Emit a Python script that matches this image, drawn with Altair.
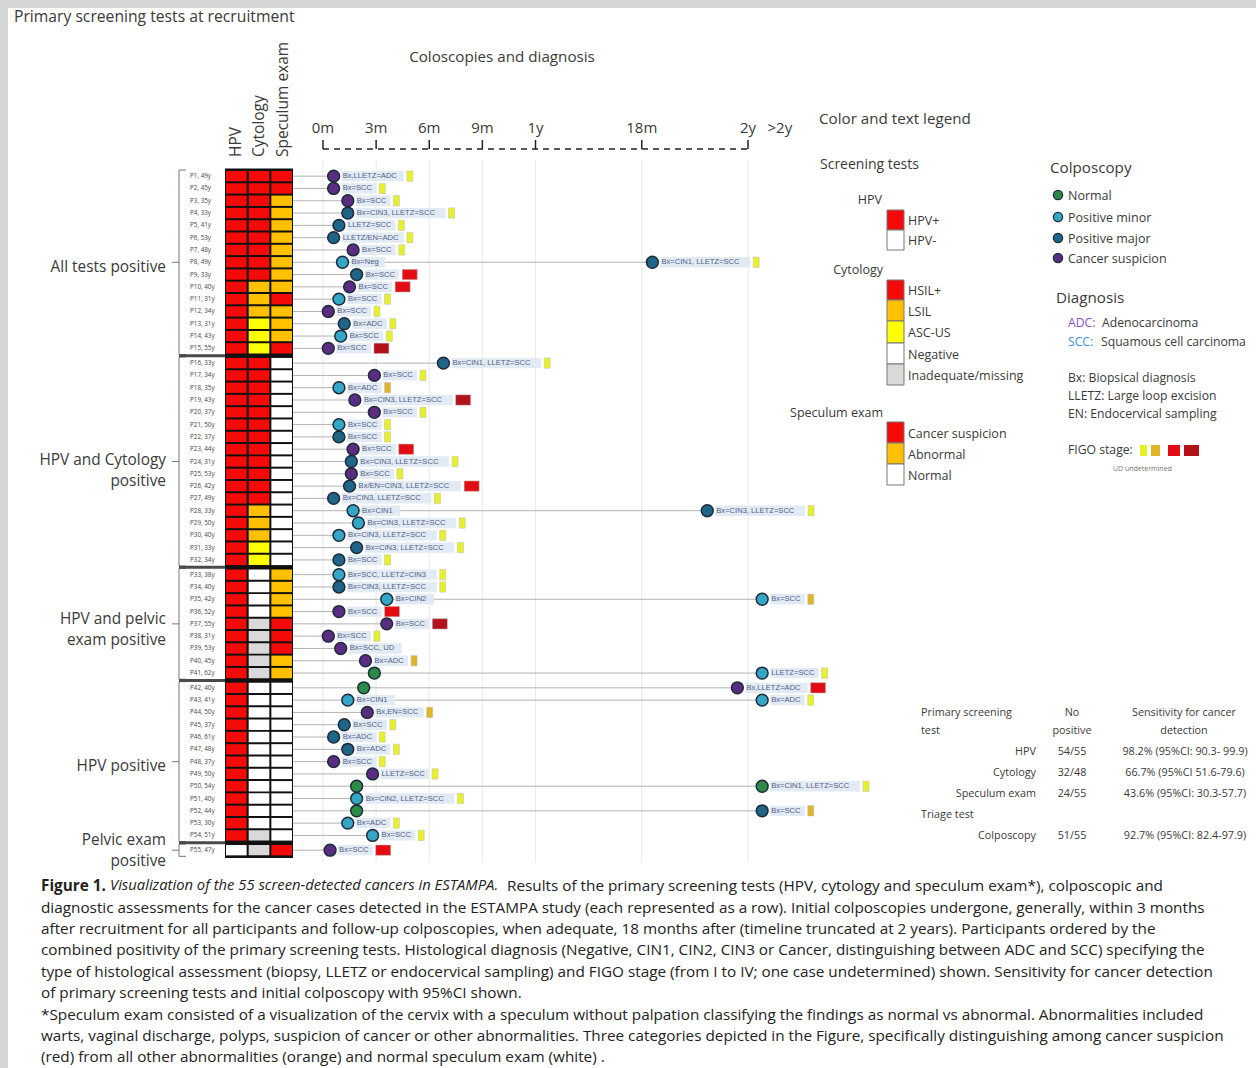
import altair as alt
import pandas as pd

# ---------------- data ----------------
ages = [49, 45, 35, 33, 41, 53, 48, 49, 33, 40, 31, 34, 31, 43, 55,
        33, 34, 35, 43, 37, 50, 37, 44, 31, 53, 42, 49, 33, 50, 40, 33, 34,
        38, 40, 42, 52, 55, 31, 53, 45, 62,
        40, 41, 50, 37, 61, 48, 37, 50, 54, 40, 44, 30, 51,
        47]
group_names = [["All tests positive"], ["HPV and Cytology", "positive"],
               ["HPV and pelvic", "exam positive"], ["HPV positive"],
               ["Pelvic exam", "positive"]]
group_sizes = [15, 17, 9, 13, 1]

hpv = ["HPV+"] * 54 + ["HPV-"]
cytology = (["HSIL+"] * 9 + ["LSIL"] * 3 + ["ASC-US"] * 3 +
            ["HSIL+"] * 12 + ["LSIL"] * 3 + ["ASC-US"] * 2 +
            ["Negative"] * 4 + ["Inadequate/missing"] * 5 +
            ["Negative"] * 12 + ["Inadequate/missing"] * 2)
speculum = (["Cancer suspicion"] * 2 + ["Abnormal"] * 8 + ["Cancer suspicion"] +
            ["Abnormal"] * 3 + ["Cancer suspicion"] +
            ["Normal"] * 17 +
            ["Abnormal"] * 4 + ["Cancer suspicion"] * 3 + ["Abnormal"] * 2 +
            ["Normal"] * 13 + ["Cancer suspicion"])

# first colposcopy (months after recruitment)
first_month = [0.6, 0.6, 1.4, 1.4, 0.9, 0.6, 1.7, 1.1, 1.9, 1.5, 0.9, 0.3, 1.2, 1.0, 0.3,
               6.8, 2.9, 0.9, 1.8, 2.9, 0.9, 0.9, 1.7, 1.6, 1.6, 1.5, 0.6, 1.7, 2.0, 0.9, 1.9, 0.9,
               0.9, 0.9, 3.6, 0.9, 3.6, 0.3, 1.0, 2.4, 2.9,
               2.3, 1.4, 2.5, 1.2, 0.6, 1.4, 0.6, 2.8, 1.9, 1.9, 1.9, 1.4, 2.8,
               0.4]
first_colpo = ["Cancer suspicion", "Cancer suspicion", "Cancer suspicion", "Positive major", "Positive major",
               "Positive major", "Cancer suspicion", "Positive minor", "Positive major", "Cancer suspicion",
               "Positive minor", "Cancer suspicion", "Positive major", "Positive minor", "Cancer suspicion",
               "Positive major", "Cancer suspicion", "Positive minor", "Cancer suspicion", "Cancer suspicion",
               "Positive minor", "Positive major", "Cancer suspicion", "Positive major", "Cancer suspicion",
               "Positive major", "Positive major", "Positive minor", "Positive minor", "Positive minor",
               "Positive major", "Positive major",
               "Positive minor", "Positive major", "Positive minor", "Cancer suspicion", "Cancer suspicion",
               "Cancer suspicion", "Cancer suspicion", "Cancer suspicion", "Normal",
               "Normal", "Positive minor", "Cancer suspicion", "Positive major", "Positive major",
               "Positive major", "Cancer suspicion", "Cancer suspicion", "Normal", "Positive minor",
               "Normal", "Positive minor", "Positive minor",
               "Cancer suspicion"]
first_label = ["Bx,LLETZ=ADC", "Bx=SCC", "Bx=SCC", "Bx=CIN3, LLETZ=SCC", "LLETZ=SCC",
               "LLETZ/EN=ADC", "Bx=SCC", "Bx=Neg", "Bx=SCC", "Bx=SCC",
               "Bx=SCC", "Bx=SCC", "Bx=ADC", "Bx=SCC", "Bx=SCC",
               "Bx=CIN1, LLETZ=SCC", "Bx=SCC", "Bx=ADC", "Bx=CIN3, LLETZ=SCC", "Bx=SCC",
               "Bx=SCC", "Bx=SCC", "Bx=SCC", "Bx=CIN3, LLETZ=SCC", "Bx=SCC",
               "Bx/EN=CIN3, LLETZ=SCC", "Bx=CIN3, LLETZ=SCC", "Bx=CIN1", "Bx=CIN3, LLETZ=SCC",
               "Bx=CIN3, LLETZ=SCC", "Bx=CIN3, LLETZ=SCC", "Bx=SCC",
               "Bx=SCC, LLETZ=CIN3", "Bx=CIN3, LLETZ=SCC", "Bx=CIN2", "Bx=SCC", "Bx=SCC",
               "Bx=SCC", "Bx=SCC, UD", "Bx=ADC", "",
               "", "Bx=CIN1", "Bx,EN=SCC", "Bx=SCC", "Bx=ADC",
               "Bx=ADC", "Bx=SCC", "LLETZ=SCC", "", "Bx=CIN2, LLETZ=SCC",
               "", "Bx=ADC", "Bx=SCC",
               "Bx=SCC"]
first_figo = ["I", "I", "I", "I", "I", "I", "I", "", "III", "III", "I", "I", "I", "I", "IV",
              "I", "I", "II", "IV", "I", "I", "I", "III", "I", "I", "III", "I", "", "I", "I", "I", "I",
              "I", "I", "", "III", "IV", "I", "", "II", "",
              "", "", "II", "I", "I", "I", "I", "I", "", "I", "", "I", "I",
              "III"]

# follow-up colposcopies
fu_patient = [8, 28, 35, 41, 42, 43, 50, 52]
fu_month = [18.6, 21.7, 24.8, 24.8, 23.4, 24.8, 24.8, 24.8]
fu_colpo = ["Positive major", "Positive major", "Positive minor", "Positive minor",
            "Cancer suspicion", "Positive minor", "Normal", "Positive major"]
fu_label = ["Bx=CIN1, LLETZ=SCC", "Bx=CIN3, LLETZ=SCC", "Bx=SCC", "LLETZ=SCC",
            "Bx,LLETZ=ADC", "Bx=ADC", "Bx=CIN1, LLETZ=SCC", "Bx=SCC"]
fu_figo = ["I", "I", "II", "I", "III", "I", "I", "II"]

tick_labels = ["0m", "3m", "6m", "9m", "1y", "18m", "2y", ">2y"]
tick_months = [0, 3, 6, 9, 12, 18, 24, 25.8]

tbl_tests = ["HPV", "Cytology", "Speculum exam", "Colposcopy"]
tbl_npos = ["54/55", "32/48", "24/55", "51/55"]
tbl_sens = ["98.2% (95%CI: 90.3- 99.9)", "66.7% (95%CI 51.6-79.6)",
            "43.6% (95%CI: 30.3-57.7)", "92.7% (95%CI: 82.4-97.9)"]

caption = [
    "diagnostic assessments for the cancer cases detected in the ESTAMPA study (each represented as a row). Initial colposcopies undergone, generally, within 3 months",
    "after recruitment for all participants and follow-up colposcopies, when adequate, 18 months after (timeline truncated at 2 years). Participants ordered by the",
    "combined positivity of the primary screening tests. Histological diagnosis (Negative, CIN1, CIN2, CIN3 or Cancer, distinguishing between ADC and SCC) specifying the",
    "type of histological assessment (biopsy, LLETZ or endocervical sampling) and FIGO stage (from I to IV; one case undetermined)  shown. Sensitivity for cancer detection",
    "of primary screening tests and initial colposcopy with 95%CI shown.",
    "*Speculum exam consisted of a visualization of the cervix with a speculum without  palpation classifying the findings as normal vs abnormal. Abnormalities included",
    "warts, vaginal discharge, polyps, suspicion of cancer or other abnormalities. Three categories depicted in the Figure, specifically distinguishing among cancer suspicion",
    "(red) from all other abnormalities (orange) and normal speculum exam (white) .",
]

# ---------------- styles ----------------
FONT = "Open Sans"
TXT = "#3a3a3a"
RED, ORANGE, YELLOW, GREY = "#f50a0a", "#ffc000", "#ffff00", "#d9d9d9"
res_dom = ["HPV+", "HPV-", "HSIL+", "LSIL", "ASC-US", "Negative", "Inadequate/missing",
           "Cancer suspicion", "Abnormal", "Normal"]
res_rng = [RED, "#ffffff", RED, ORANGE, YELLOW, "#ffffff", GREY, RED, ORANGE, "#ffffff"]
col_dom = ["Normal", "Positive minor", "Positive major", "Cancer suspicion"]
col_rng = ["#2b8a48", "#35a7c6", "#1e6588", "#5a2d82"]
figo_dom = ["I", "II", "III", "IV"]
figo_rng = ["#e8f02a", "#e0b52a", "#e30c12", "#b3121b"]
label_dy_px = [4.5, -1.5, -5, 4.5, -10]   # first-line offset of group labels (layout)

PXM = 425 / 24.0  # pixels per month on the timeline
RPX = 12.3        # pixels per row

# ---------------- tables ----------------
gidx = sum([[g] * n for g, n in enumerate(group_sizes)], [])
ypos = [i + 0.2 * g for i, g in enumerate(gidx)]
names = [f"P{i + 1}, {a}y" for i, a in enumerate(ages)]

hm = pd.DataFrame([dict(test=t, result=v, y0=ypos[i] - 0.42, y1=ypos[i] + 0.42)
                   for i in range(55)
                   for t, v in (("HPV", hpv[i]), ("Cytology", cytology[i]), ("Speculum exam", speculum[i]))])
rows = pd.DataFrame(dict(name=names, y=ypos))

visits = pd.DataFrame(dict(p=list(range(1, 56)) + fu_patient,
                           month=first_month + fu_month,
                           colpo=first_colpo + fu_colpo,
                           label=first_label + fu_label,
                           figo=first_figo + fu_figo))
visits["y"] = [ypos[p - 1] for p in visits["p"]]
nchar = visits["label"].str.len()
visits["lx0"] = visits["month"] + 8 / PXM
visits["lx1"] = visits["month"] + (15 + 4.6 * nchar) / PXM
visits["bx0"] = visits["month"] + (18 + 4.6 * nchar) / PXM
visits["bx1"] = visits["bx0"] + visits["figo"].map({"I": 6, "II": 6, "III": 15, "IV": 15, "": 0}) / PXM
visits["y0"] = visits["y"] - 0.42
visits["y1"] = visits["y"] + 0.42
lines = visits.groupby("p").agg(end=("month", "max"), y=("y", "first")).reset_index()
lines["start"] = -1.7
labelled = visits[visits["label"] != ""]
boxed = visits[visits["figo"] != ""]

starts = [sum(group_sizes[:g]) for g in range(len(group_sizes))]
groups = pd.DataFrame(dict(
    name=group_names,
    top=[ypos[s] - 0.5 for s in starts],
    bot=[ypos[s + n - 1] + 0.5 for s, n in zip(starts, group_sizes)],
))
groups["mid"] = (groups["top"] + groups["bot"]) / 2
groups["ly"] = groups["mid"] + pd.Series(label_dy_px) / RPX
seps = groups.iloc[:-1].copy()
seps["sep"] = seps["bot"] + 0.1

ticks = pd.DataFrame(dict(label=tick_labels, m=tick_months))
grid = ticks[ticks["label"] != ">2y"]

# ---------------- scales ----------------
YS = alt.Scale(domain=[-0.5, 55.3], range=[170, 170 + 55.8 * RPX], nice=False, zero=False)
XT = alt.Scale(domain=[0, 24], range=[323, 748], nice=False, zero=False)


def Yr(f):
    return alt.Y(f, type="quantitative", scale=YS, axis=None)


def Xt(f):
    return alt.X(f, type="quantitative", scale=XT, axis=None)


dummy = pd.DataFrame({"a": [0]})


def txt(x, y, s, size=12.0, align="left", color=TXT, weight="normal", style="normal",
        angle=None, baseline="middle", font=FONT):
    kw = dict(text=s, fontSize=size, align=align, baseline=baseline, color=color,
              fontWeight=weight, fontStyle=style, font=font)
    if angle is not None:
        kw["angle"] = angle
    return alt.Chart(dummy).mark_text(**kw).encode(x=alt.value(x), y=alt.value(y))


def box(x1, y1, x2, y2, fill, stroke=None, sw=1.0):
    kw = dict(fill=fill)
    if stroke:
        kw.update(stroke=stroke, strokeWidth=sw)
    return alt.Chart(dummy).mark_rect(**kw).encode(
        x=alt.value(x1), x2=alt.value(x2), y=alt.value(y1), y2=alt.value(y2))


def dot(x, y, color, size=85):
    return alt.Chart(dummy).mark_circle(size=size, opacity=1, fill=color, stroke="#1d2b3a",
                                        strokeWidth=1.3).encode(x=alt.value(x), y=alt.value(y))


layers = []
# canvas
layers.append(box(8, 8, 1256, 1068, "#ffffff"))
layers.append(txt(14, 17, "Primary screening tests at recruitment", size=15.7))

# column headers
for xh, s in ((236, "HPV"), (259, "Cytology"), (283, "Speculum exam")):
    layers.append(txt(xh, 157, s, size=15.5, angle=270, align="left", baseline="middle"))

# timeline header and axis
layers.append(txt(502, 57, "Coloscopies and diagnosis", size=15.2, align="center"))
layers.append(alt.Chart(grid).mark_rule(color="#e9e9e9", strokeWidth=1).encode(
    x=Xt("m"), y=alt.value(160), y2=alt.value(862)))
layers.append(alt.Chart(ticks).mark_text(font=FONT, fontSize=15, color=TXT, baseline="middle").encode(
    x=Xt("m"), y=alt.value(128), text="label:N"))
layers.append(alt.Chart(pd.DataFrame({"a": [0], "b": [24]})).mark_rule(
    color="#222222", strokeWidth=1.5, strokeDash=[6, 5]).encode(x=Xt("a"), x2=alt.X2("b"), y=alt.value(149)))
layers.append(alt.Chart(grid).mark_rule(color="#222222", strokeWidth=1.5).encode(
    x=Xt("m"), y=alt.value(140), y2=alt.value(149)))

# group brackets, labels and separators
layers.append(alt.Chart(groups).mark_rule(color="#777777", strokeWidth=1).encode(
    x=alt.value(179), y=Yr("top"), y2=alt.Y2("bot")))
for f in ("top", "bot"):
    layers.append(alt.Chart(groups).mark_rule(color="#777777", strokeWidth=1).encode(
        x=alt.value(179), x2=alt.value(186), y=Yr(f)))
layers.append(alt.Chart(groups).mark_rule(color="#777777", strokeWidth=1).encode(
    x=alt.value(172), x2=alt.value(179), y=Yr("mid")))
layers.append(alt.Chart(groups).mark_text(font=FONT, fontSize=15.4, color=TXT, align="right",
                                          baseline="middle", lineHeight=21).encode(
    x=alt.value(166), y=Yr("ly"), text="name"))
layers.append(alt.Chart(seps).mark_rule(color="#4a4a4a", strokeWidth=3).encode(
    x=alt.value(179), x2=alt.value(226), y=Yr("sep")))

# row labels
layers.append(alt.Chart(rows).mark_text(font=FONT, fontSize=6.3, color="#444444", align="left",
                                        baseline="middle").encode(
    x=alt.value(190), y=Yr("y"), text="name:N"))

# row connecting lines
layers.append(alt.Chart(lines).mark_rule(color="#b3b3b3", strokeWidth=1).encode(
    x=Xt("start"), x2=alt.X2("end"), y=Yr("y")))

# heatmap
layers.append(box(225, 168.5, 293, 858, "#111111"))
layers.append(alt.Chart(hm).mark_rect().encode(
    x=alt.X("test:N", scale=alt.Scale(domain=["HPV", "Cytology", "Speculum exam"], range=[226, 292],
                                        paddingInner=0.09, paddingOuter=0.0), axis=None),
    y=Yr("y0"), y2=alt.Y2("y1"),
    color=alt.Color("result:N", scale=alt.Scale(domain=res_dom, range=res_rng), legend=None)))

# diagnosis labels
layers.append(alt.Chart(labelled).mark_rect(color="#dfe8f3", opacity=0.9).encode(
    x=Xt("lx0"), x2=alt.X2("lx1"), y=Yr("y0"), y2=alt.Y2("y1")))
layers.append(alt.Chart(labelled).mark_text(font="Liberation Sans", fontSize=7.6, color="#4f5f86",
                                            align="left", baseline="middle", dx=9).encode(
    x=Xt("month"), y=Yr("y"), text="label:N"))
layers.append(alt.Chart(boxed).mark_rect(stroke="#bbbbbb", strokeWidth=0.5).encode(
    x=Xt("bx0"), x2=alt.X2("bx1"), y=Yr("y0"), y2=alt.Y2("y1"),
    color=alt.Color("figo:N", scale=alt.Scale(domain=figo_dom, range=figo_rng), legend=None)))

# colposcopy points
layers.append(alt.Chart(visits).mark_circle(size=140, opacity=1, stroke="#1d2b3a", strokeWidth=1.5).encode(
    x=Xt("month"), y=Yr("y"),
    color=alt.Color("colpo:N", scale=alt.Scale(domain=col_dom, range=col_rng), legend=None)))

# ---------------- legend ----------------
LS = 12.5
layers.append(txt(819, 119, "Color and text legend", size=15.2))
layers.append(txt(820, 165, "Screening tests", size=14))
layers.append(txt(882, 200, "HPV", size=LS, align="right"))
layers.append(txt(883, 270, "Cytology", size=LS, align="right"))
layers.append(txt(883, 413, "Speculum exam", size=LS, align="right"))
leg_boxes = [
    (210, 230, RED, "HPV+"), (230, 250, "#ffffff", "HPV-"),
    (280, 300, RED, "HSIL+"), (300, 321, ORANGE, "LSIL"), (321, 343, YELLOW, "ASC-US"),
    (343, 364, "#ffffff", "Negative"), (364, 385, GREY, "Inadequate/missing"),
    (422, 443, RED, "Cancer suspicion"), (443, 464, ORANGE, "Abnormal"), (464, 485, "#ffffff", "Normal"),
]
for y1, y2, c, s in leg_boxes:
    layers.append(box(887, y1, 904, y2, c, stroke="#777777", sw=1))
    layers.append(txt(908, (y1 + y2) / 2 + 1, s, size=LS))

layers.append(txt(1050, 168, "Colposcopy", size=15.2))
for yy, c, s in zip((195, 217, 238, 258), col_rng, col_dom):
    layers.append(dot(1058, yy, c))
    layers.append(txt(1068, yy + 1, s, size=LS))
layers.append(txt(1056, 298, "Diagnosis", size=15.2))
DS = 12.2
layers.append(txt(1068, 323, "ADC:", size=DS, color="#8a4fc7"))
layers.append(txt(1102, 323, "Adenocarcinoma", size=DS))
layers.append(txt(1068, 342, "SCC:", size=DS, color="#3a8ee6"))
layers.append(txt(1101, 342, "Squamous cell carcinoma", size=DS))
layers.append(txt(1068, 378, "Bx: Biopsical diagnosis", size=DS))
layers.append(txt(1068, 396, "LLETZ:  Large loop excision", size=DS))
layers.append(txt(1068, 414, "EN: Endocervical sampling", size=DS))
layers.append(txt(1068, 450, "FIGO stage:", size=DS))
for (x1, x2), c in zip(((1140, 1147), (1151, 1160), (1168, 1180), (1184, 1199)), figo_rng):
    layers.append(box(x1, 445, x2, 456, c))
layers.append(txt(1113, 469, "UD undetermined", size=7, color="#777777"))

# ---------------- sensitivity table ----------------
TS = 10.8
layers.append(txt(921, 713, "Primary screening", size=TS))
layers.append(txt(921, 731, "test", size=TS))
layers.append(txt(1072, 713, "No", size=TS, align="center"))
layers.append(txt(1072, 731, "positive", size=TS, align="center"))
layers.append(txt(1184, 713, "Sensitivity for cancer", size=TS, align="center"))
layers.append(txt(1184, 731, "detection", size=TS, align="center"))
for yy, t, n, s in zip((752, 773, 794, 836), tbl_tests, tbl_npos, tbl_sens):
    layers.append(txt(1036, yy, t, size=TS, align="right"))
    layers.append(txt(1072, yy, n, size=TS, align="center"))
    layers.append(txt(1185, yy, s, size=TS, align="center"))
layers.append(txt(921, 815, "Triage test", size=TS))

# ---------------- caption ----------------
CS = 15.3
CC = "#222222"
layers.append(txt(41, 886, "Figure 1.", size=CS, weight="bold", color=CC))
layers.append(txt(110, 886, "Visualization of the 55 screen-detected cancers in ESTAMPA.", size=14.8,
                  style="italic", color=CC))
layers.append(txt(507, 886, "Results of the primary  screening tests (HPV, cytology and speculum exam*), colposcopic and",
                  size=CS, color=CC))
for k, line in enumerate(caption):
    layers.append(txt(41, 907.5 + 21.4 * k, line, size=CS, color=CC))

chart = alt.layer(*layers).resolve_scale(x="independent", y="independent", color="independent").properties(
    width=1256, height=1068, autosize=alt.AutoSizeParams(type="none"), padding=0, background="#d6d6d6"
).configure_view(stroke=None)

chart.save("out.html", embed_options={"renderer": "svg", "actions": False})
